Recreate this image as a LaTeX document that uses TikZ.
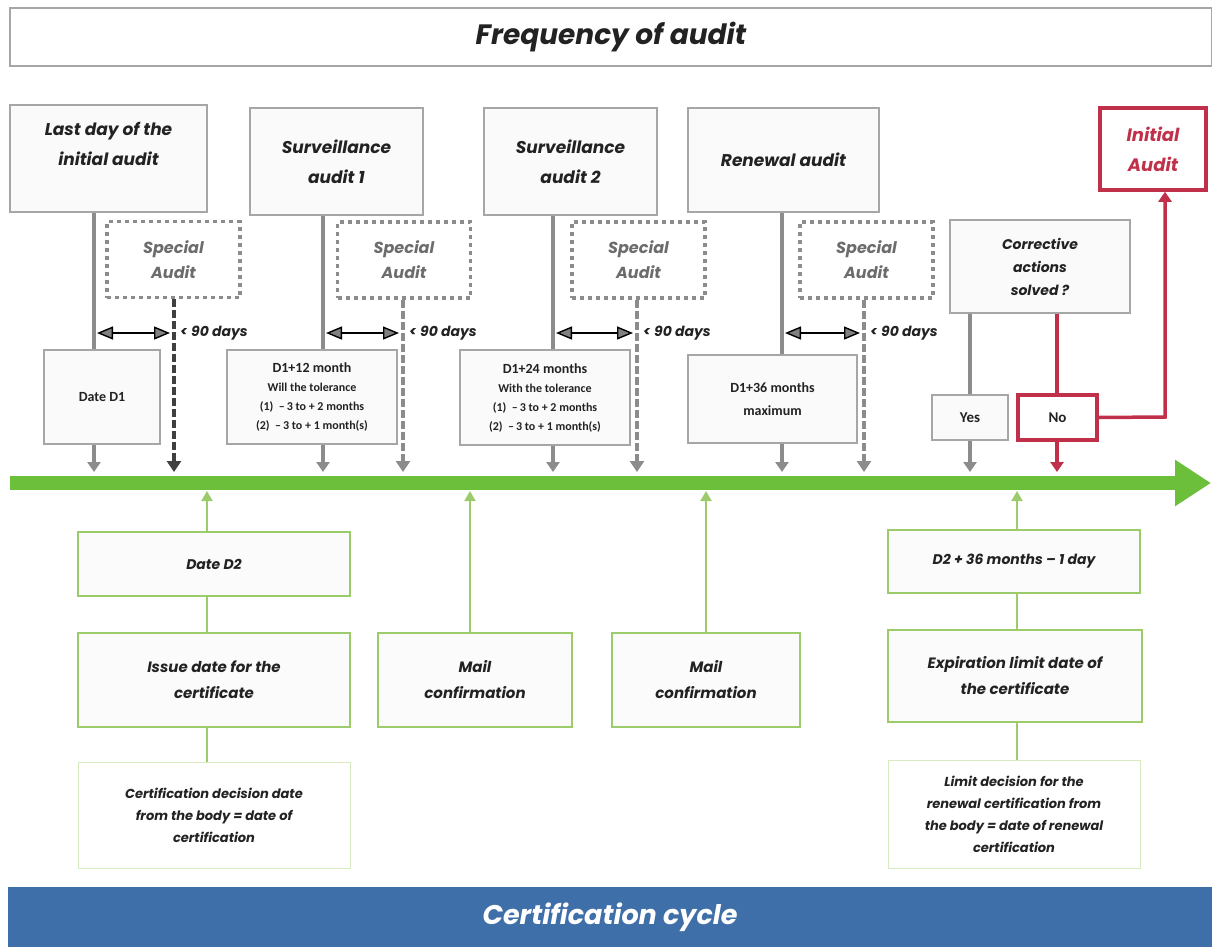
\documentclass[tikz,border=0pt]{standalone}
\usepackage{fontspec}
\setmainfont{Poppins}
\newfontfamily\calib{Carlito}
\usetikzlibrary{arrows.meta}
\definecolor{linegray}{HTML}{8C8C8C}
\definecolor{boxgray}{HTML}{A6A6A6}
\definecolor{leafgreen}{HTML}{6CBF3A}
\definecolor{boxgreen}{HTML}{9BCB6A}
\definecolor{paleGreen}{HTML}{D6EBC0}
\definecolor{alertred}{HTML}{C0304A}
\definecolor{bandblue}{HTML}{3F6FA8}
\definecolor{inkgray}{HTML}{222222}

\begin{document}
\begin{tikzpicture}[x=1pt,y=-1pt,
    every node/.style={align=center, inner sep=0pt, text=inkgray},
    size/.style 2 args={minimum width=#1, minimum height=#2},
    titlebox/.style={draw=boxgray, line width=1.2, fill=white, font=\fontsize{28}{30}\selectfont\bfseries\itshape},
    band/.style={fill=bandblue, text=white, font=\fontsize{27}{30}\selectfont\bfseries\itshape},
    topbox/.style={draw=boxgray, line width=1.2, fill=gray!4, font=\fontsize{17}{30}\selectfont\bfseries\itshape},
    special/.style={draw=linegray, line width=3.5, dash pattern=on 4 off 4, fill=white, text=gray!85!black, font=\fontsize{16}{25}\selectfont\bfseries\itshape},
    datebox/.style={draw=boxgray, line width=1.2, fill=gray!4, font=\calib\fontsize{12}{19}\selectfont\bfseries},
    redbox/.style={draw=alertred, line width=3.5, fill=white, text=alertred, font=\fontsize{18}{30}\selectfont\bfseries\itshape},
    greenbox/.style={draw=boxgreen, line width=1.6, fill=green!2!gray!3, font=\fontsize{15}{26}\selectfont\bfseries\itshape},
    notebox/.style={draw=paleGreen, line width=1, fill=white, font=\fontsize{13}{22}\selectfont\bfseries\itshape},
    days/.style={anchor=west, font=\fontsize{14}{16}\selectfont\bfseries\itshape},
    stem/.style={draw=linegray, line width=3.5, -{Triangle[width=13, length=10]}},
    dashstem/.style={draw=linegray, line width=4.5, dash pattern=on 8 off 3, -{Triangle[width=14, length=11]}},
    span/.style={draw=black, line width=1.4, {Triangle[width=13, length=16, fill=gray]}-{Triangle[width=13, length=16, fill=gray]}},
    redstem/.style={draw=alertred, line width=3.5, -{Triangle[width=13, length=10]}},
    greenstem/.style={draw=boxgreen, line width=2, -{Triangle[width=11, length=10]}}]
    \useasboundingbox (0,0) rectangle (1212,947);
    % Place nodes
    \node [titlebox, size={1202}{58}] (title) at (611,37) {Frequency of audit};
    \node [band, size={1204}{60}] (cycle) at (610,917) {Certification cycle};

    \node [topbox, size={197}{107}] (lastday) at (108.5,158.5) {Last day of the\\initial audit\\};
    \node [topbox, size={173}{107}] (surv1) at (336.5,161.5) {Surveillance\\audit 1};
    \node [topbox, size={173}{107}] (surv2) at (570.5,161.5) {Surveillance\\audit 2};
    \node [topbox, size={191}{104}] (renewal) at (783.5,160) {Renewal audit};
    \node [redbox, size={106}{82}] (initial) at (1153,149) {Initial\\Audit};

    \node [special, size={133}{76}] (sp1) at (173.5,259.5) {Special\\Audit};
    \node [special, size={133}{76}] (sp2) at (404,260) {Special\\Audit};
    \node [special, size={133}{76}] (sp3) at (638.5,260) {Special\\Audit};
    \node [special, size={133}{76}] (sp4) at (866.5,260) {Special\\Audit};

    \node [datebox, size={116}{94}] (d1) at (102,397) {\fontsize{14}{19}\selectfont Date D1};
    \node [datebox, size={170}{94}] (d2) at (312,397) {\fontsize{14}{19}\selectfont D1+12 month\\Will the tolerance\\(1)\ \ \textendash\,3 to + 2 months\\(2)\ \ \textendash\,3 to + 1 month(s)};
    \node [datebox, size={170}{95}] (d3) at (545,397.5) {\fontsize{14}{19}\selectfont D1+24 months\\With the tolerance\\(1)\ \ \textendash\,3 to + 2 months\\(2)\ \ \textendash\,3 to + 1 month(s)};
    \node [datebox, size={169}{88}, font=\calib\fontsize{14}{23}\selectfont\bfseries] (d4) at (772.5,399) {D1+36 months\\maximum};

    \node [topbox, size={180}{93}, font=\fontsize{14}{23}\selectfont\bfseries\itshape] (solved) at (1040,266.5) {Corrective\\actions\\solved ?};
    \node [datebox, size={76}{45}, font=\calib\fontsize{15}{18}\selectfont\bfseries] (yes) at (970,417.5) {Yes};
    \node [datebox, draw=alertred, line width=3.5, fill=white, size={79}{45}, font=\calib\fontsize{15}{18}\selectfont\bfseries] (no) at (1057.5,417.5) {No};

    \node [greenbox, size={272}{64}, font=\fontsize{14}{22}\selectfont\bfseries\itshape] (dd2) at (214,564) {Date D2};
    \node [greenbox, size={272}{94}] (issue) at (214,680) {Issue date for the\\certificate};
    \node [notebox, size={272}{106}] (decision) at (214,815) {Certification decision date\\from the body = date of\\certification};
    \node [greenbox, size={194}{94}] (mail1) at (475,680) {Mail\\confirmation};
    \node [greenbox, size={188}{94}] (mail2) at (706,680) {Mail\\confirmation};
    \node [greenbox, size={252}{63}, font=\fontsize{14}{22}\selectfont\bfseries\itshape] (exp36) at (1014,561.5) {D2 + 36 months -- 1 day};
    \node [greenbox, size={254}{92}] (expiry) at (1015,676) {Expiration limit date of\\the certificate};
    \node [notebox, size={252}{108}] (limit) at (1014,814) {Limit decision for the\\renewal certification from\\the body = date of renewal\\certification};

    % timeline points
    \coordinate (tstart) at (10,483);
    \coordinate (tend) at (1211,483);
    \foreach \x/\n in {94/t1,323/t2,553/t3,782/t4,174/s1,403/s2,637/s3,864/s4,970/ty,1057/tn}
        \coordinate (\n) at (\x,472);
    \foreach \x/\n in {207/b1,470/b2,706/b3,1017/b4}
        \coordinate (\n) at (\x,491);
    \coordinate (up) at (1165,417);

    % Draw edges
    \draw [leafgreen, line width=14, -{Triangle[width=44, length=36]}] (tstart) -- (tend);

    \draw [stem] (lastday.south -| t1) -- (d1.north -| t1) (d1.south -| t1) -- (t1);
    \draw [stem] (surv1.south -| t2) -- (d2.north -| t2) (d2.south -| t2) -- (t2);
    \draw [stem] (surv2.south -| t3) -- (d3.north -| t3) (d3.south -| t3) -- (t3);
    \draw [stem] (renewal.south -| t4) -- (d4.north -| t4) (d4.south -| t4) -- (t4);

    \draw [dashstem, draw=black!75] (sp1.south -| s1) -- (s1);
    \draw [dashstem] (sp2.south -| s2) -- (s2);
    \draw [dashstem] (sp3.south -| s3) -- (s3);
    \draw [dashstem] (sp4.south -| s4) -- (s4);

    \foreach \a/\b in {t1/s1,t2/s2,t3/s3,t4/s4}{
        \draw [span] ([xshift=3]\a |- 0,333) -- ([xshift=-4]\b |- 0,333);
        \node [days] at ([xshift=6]\b |- 0,333) {< 90 days};
    }

    \draw [stem] (solved.south -| ty) -- (yes.north -| ty) (yes.south -| ty) -- (ty);
    \draw [redstem] (solved.south -| tn) -- (no.north -| tn) (no.south -| tn) -- (tn);
    \draw [redstem] (no.east) -- (up) -- (up |- initial.south);

    \draw [greenstem] (dd2.north -| b1) -- (b1);
    \draw [boxgreen, line width=2] (dd2.south -| b1) -- (issue.north -| b1) (issue.south -| b1) -- (decision.north -| b1);
    \draw [greenstem] (mail1.north -| b2) -- (b2);
    \draw [greenstem] (mail2.north -| b3) -- (b3);
    \draw [greenstem] (exp36.north -| b4) -- (b4);
    \draw [boxgreen, line width=2] (exp36.south -| b4) -- (expiry.north -| b4) (expiry.south -| b4) -- (limit.north -| b4);
\end{tikzpicture}
\end{document}
